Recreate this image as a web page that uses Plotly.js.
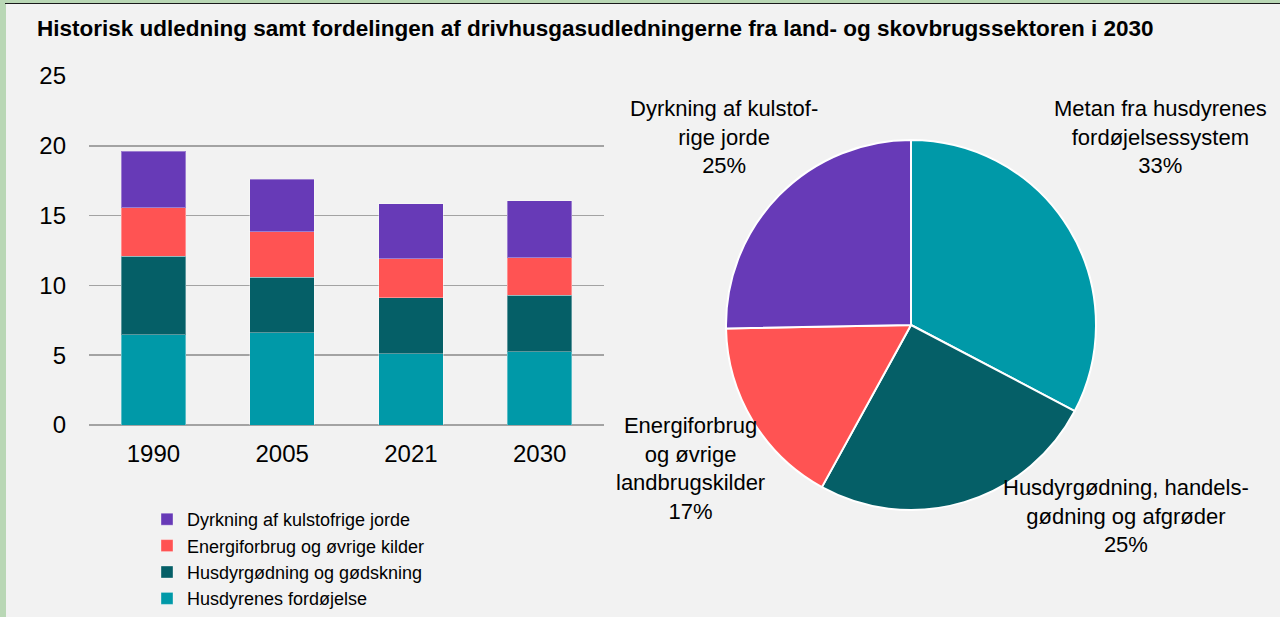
<!DOCTYPE html>
<html>
<head>
<meta charset="utf-8">
<script src="https://cdn.plot.ly/plotly-3.0.1.min.js"></script>
<style>
html,body{margin:0;padding:0;background:#f2f2f2;}
#chart{width:1280px;height:617px;}
</style>
</head>
<body>
<div id="chart"></div>
<script>
// ---- data ----
const years = ["1990", "2005", "2021", "2030"];
const seriesNames = ["Husdyrenes fordøjelse", "Husdyrgødning og gødskning", "Energiforbrug og øvrige kilder", "Dyrkning af kulstofrige jorde"];
const seriesColors = ["#0099a8", "#055f67", "#ff5353", "#673ab7"];
const fordoejelse = [6.46, 6.60, 5.10, 5.24];
const goedning = [5.62, 4.00, 4.00, 4.07];
const energi = [3.47, 3.23, 2.80, 2.66];
const lavbund = [4.06, 3.78, 3.95, 4.09];
const yTicks = [0, 5, 10, 15, 20, 25];
// pie: share in 2030 (same order as series)
const pieValues = [32.7, 25.3, 16.7, 25.3];
const pieLabelNames = ["Metan fra husdyrenes<br>fordøjelsessystem", "Husdyrgødning, handels-<br>gødning og afgrøder", "Energiforbrug<br>og øvrige<br>landbrugskilder", "Dyrkning af kulstof-<br>rige jorde"];

// ---- build ----
const W = 1280, H = 617;
const px = x => x / W;
const py = y => 1 - y / H;
const FONT = "Liberation Sans, Arial, sans-serif";

const values = [fordoejelse, goedning, energi, lavbund];
const traces = values.map((v, i) => ({
  type: "bar",
  x: years,
  y: v,
  name: seriesNames[i],
  marker: {color: seriesColors[i], line: {color: "rgba(255,255,255,0.35)", width: 1}},
  hoverinfo: "none",
  xaxis: "x", yaxis: "y"
}));

traces.push({
  type: "pie",
  values: pieValues,
  labels: seriesNames,
  marker: {colors: seriesColors, line: {color: "#ffffff", width: 2}},
  sort: false,
  direction: "clockwise",
  rotation: 0,
  textinfo: "none",
  hoverinfo: "none",
  showlegend: false,
  domain: {x: [px(726), px(1096)], y: [py(510), py(140)]}
});

const total = pieValues.reduce((a, b) => a + b, 0);
const pct = pieValues.map(v => Math.round(v / total * 100) + "%");
const labelPos = [
  {x: 1160, y: 137},
  {x: 1126, y: 516},
  {x: 690, y: 468},
  {x: 724, y: 137}
];
const annotations = pieLabelNames.map((n, i) => ({
  text: n + "<br>" + pct[i],
  xref: "paper", yref: "paper",
  x: px(labelPos[i].x), y: py(labelPos[i].y),
  xanchor: "center", yanchor: "middle",
  showarrow: false, align: "center",
  font: {family: FONT, size: 22, color: "#000"}
}));

const layout = {
  width: W, height: H,
  margin: {l: 0, r: 0, t: 0, b: 0, pad: 0},
  paper_bgcolor: "#f2f2f2",
  plot_bgcolor: "rgba(0,0,0,0)",
  barmode: "stack",
  bargap: 0.5,
  font: {family: FONT, size: 18, color: "#000"},
  title: {
    text: "<b>Historisk udledning samt fordelingen af drivhusgasudledningerne fra land- og skovbrugssektoren i 2030</b>",
    xref: "paper", yref: "paper",
    x: px(37), xanchor: "left",
    y: py(28), yanchor: "middle",
    font: {family: FONT, size: 22.5, color: "#000"}
  },
  xaxis: {
    domain: [px(89), px(604)],
    type: "category",
    showgrid: false,
    showline: false,
    ticks: "",
    ticklabelstandoff: 12,
    tickfont: {family: FONT, size: 24, color: "#000"},
    automargin: false,
    fixedrange: true
  },
  yaxis: {
    domain: [py(425), py(76)],
    range: [0, 25],
    tickvals: yTicks,
    ticktext: yTicks.map(String),
    showgrid: true,
    gridcolor: "#a3a3a3",
    gridwidth: 1.5,
    zeroline: true,
    zerolinecolor: "#a3a3a3",
    zerolinewidth: 1.8,
    showline: false,
    ticks: "",
    ticklabelstandoff: 22,
    tickfont: {family: FONT, size: 24, color: "#000"},
    automargin: false,
    fixedrange: true
  },
  legend: {
    x: px(147), xanchor: "left",
    y: 0, yanchor: "bottom",
    bgcolor: "rgba(0,0,0,0)",
    font: {family: FONT, size: 18, color: "#000"},
    traceorder: "reversed"
  },
  annotations: annotations,
  shapes: [
    {type: "rect", xref: "paper", yref: "paper", x0: 0, x1: px(6), y0: 0, y1: 1, fillcolor: "#b9d7b5", line: {width: 0}, layer: "above"},
    {type: "rect", xref: "paper", yref: "paper", x0: 0, x1: 1, y0: py(3), y1: 1, fillcolor: "#b9d7b5", line: {width: 0}, layer: "above"},
    {type: "rect", xref: "paper", yref: "paper", x0: px(5), x1: 1, y0: py(4), y1: py(3), fillcolor: "#1a1a1a", line: {width: 0}, layer: "above"}
  ]
};

Plotly.newPlot("chart", traces, layout, {displayModeBar: false, staticPlot: true});
</script>
</body>
</html>
